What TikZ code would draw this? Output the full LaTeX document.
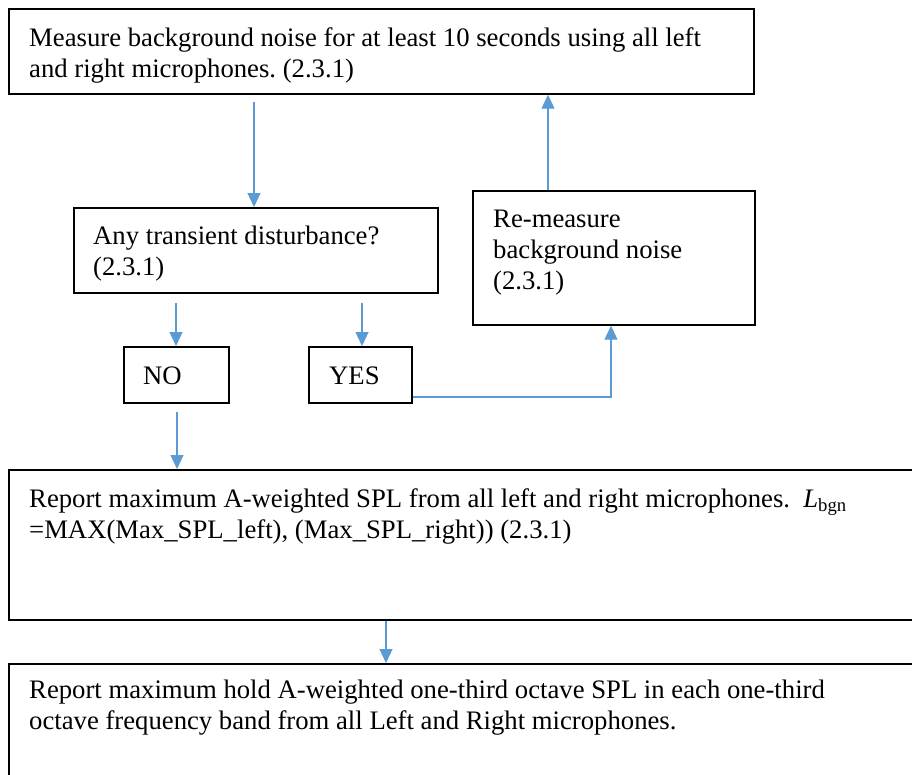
\documentclass[tikz,border=0pt]{standalone}
\usepackage{fontspec}
\setmainfont{Liberation Serif}
\usetikzlibrary{arrows.meta}
\definecolor{wordblue}{HTML}{5B9BD5}
\begin{document}
\frenchspacing
\begin{tikzpicture}[x=1pt,y=-1pt,
  box/.style={draw=black,line width=1.7pt,rectangle,inner sep=0pt,anchor=north west},
  txt/.style={font=\fontsize{26.7}{31}\selectfont,align=left,inner sep=0pt,anchor=base west},
  arr/.style={draw=wordblue,line width=1.1pt,-{Triangle[length=14pt,width=13pt]}},
  lnk/.style={draw=wordblue,line width=1.1pt}]
\clip (0,0) rectangle (912,774);
\fill[white] (0,0) rectangle (912,774);
% boxes
\node[box,minimum width=745pt,minimum height=85pt] (top) at (8,8) {};
\node[box,minimum width=364pt,minimum height=85pt] (dec) at (73,207) {};
\node[box,minimum width=282pt,minimum height=134pt] (rem) at (472,190) {};
\node[box,minimum width=105pt,minimum height=56pt] (no) at (123,346) {};
\node[box,minimum width=103pt,minimum height=56pt] (yes) at (308,346) {};
\node[box,minimum width=930pt,minimum height=150pt] (rep) at (8,469) {};
\node[box,minimum width=930pt,minimum height=150pt] (fin) at (8,663) {};
% texts (base anchor = baseline of the last line)
\node[txt] (ttop) at (29,77) {Measure background noise for at least 10 seconds using all left\\and right microphones. (2.3.1)};
\node[txt] (tdec) at (93,275) {Any transient disturbance?\\(2.3.1)};
\node[txt] (trem) at (493,289) {Re-measure\\background noise\\(2.3.1)};
\node[txt] (tno) at (143,384) {NO};
\node[txt] (tyes) at (329,384) {YES};
\node[txt] (trep) at (29,538) {Report maximum A-weighted SPL from all left and right microphones.\ \ {\itshape L}\textsubscript{bgn}\\=MAX(Max\_SPL\_left), (Max\_SPL\_right)) (2.3.1)};
\node[txt] (tfin) at (29,729) {Report maximum hold A-weighted one-third octave SPL in each one-third\\octave frequency band from all Left and Right microphones.};
% connector columns
\coordinate (c1) at (254,0);
\coordinate (c2) at (548,0);
\coordinate (c3) at (176,0);
\coordinate (c4) at (362,0);
\coordinate (c5) at (177,0);
\coordinate (c6) at (386,0);
\coordinate (c7) at (611,397);
% connectors
\draw[arr,shorten <=7pt] (top.south -| c1) -- (dec.north -| c1);
\draw[arr] (rem.north -| c2) -- (top.south -| c2);
\draw[arr,shorten <=9pt] (dec.south -| c3) -- (no.north -| c3);
\draw[arr,shorten <=9pt] (dec.south -| c4) -- (yes.north -| c4);
\draw[arr,shorten <=8pt] (no.south -| c5) -- (rep.north -| c5);
\draw[arr] (rep.south -| c6) -- (fin.north -| c6);
\draw[arr] (yes.east |- c7) -- (c7) -- (rem.south -| c7);
\end{tikzpicture}
\end{document}
